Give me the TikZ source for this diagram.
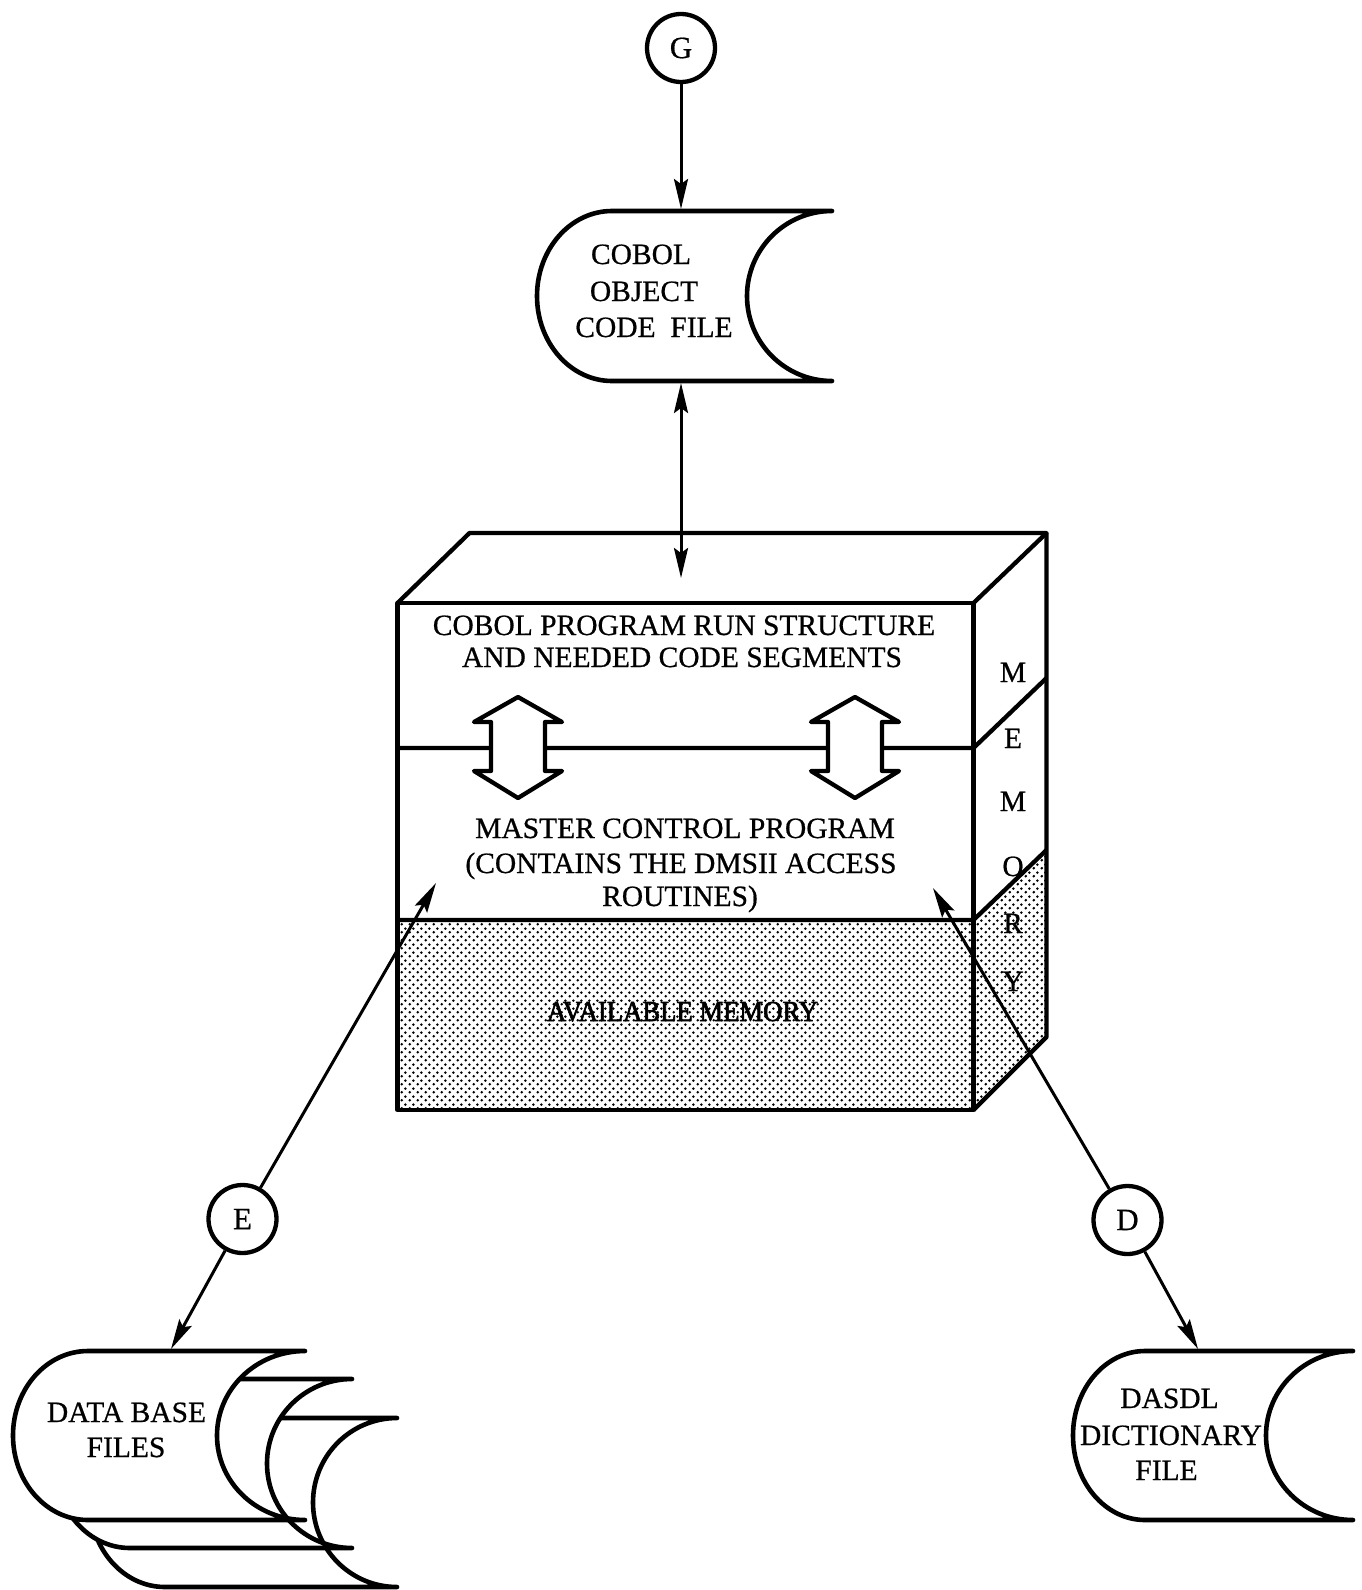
\documentclass[tikz,border=0pt]{standalone}
\usepackage{fontspec}
\setmainfont{Liberation Serif}[FakeBold=0.6]
\newfontfamily\memfont{Liberation Serif}[FakeStretch=0.92,FakeBold=2.2]
\usetikzlibrary{arrows.meta,patterns}

% staggered dot screen for the free memory area
\pgfdeclarepatternformonly{memdots}{\pgfpointorigin}{\pgfpoint{8pt}{8pt}}{\pgfpoint{8pt}{8pt}}{%
  \pgfpathcircle{\pgfpoint{2pt}{2pt}}{1.6pt}%
  \pgfpathcircle{\pgfpoint{6pt}{6pt}}{1.6pt}%
  \pgfusepath{fill}}

\tikzset{
  outline/.style={line width=4.3pt, line join=round},
  filebox/.style={line width=4.6pt, fill=white, line join=round, line cap=round},
  tipshape/.tip={Stealth[length=30pt,width=14pt,inset=5pt]},
  conn/.style={line width=3pt, -tipshape},
  biconn/.style={line width=3pt, tipshape-tipshape},
  tag/.style={circle, draw, line width=4.3pt, minimum size=68pt, inner sep=0pt,
    font=\fontsize{31}{31}\selectfont},
  txt/.style={anchor=base, inner sep=0pt, font=\fontsize{29.5}{35}\selectfont},
  memtxt/.style={anchor=base, inner sep=0pt, font=\memfont\fontsize{29}{35}\selectfont},
  hollow/.style={line width=4.3pt, fill=white, line join=round},
  screen/.style={pattern=memdots},
}

% stored-data symbol: #1 left arc centre x, #2 right end x, #3 top y, #4 bottom y,
% #5 left arc x radius, #6 concave arc x radius (y measured downwards)
\newcommand\storedfile[6]{%
  \draw[filebox] (#1,-#3) -- (#2,-#3)
    arc[start angle=90, end angle=270, x radius=#6, y radius={(#4-#3)/2}]
    -- (#1,-#4)
    arc[start angle=270, end angle=90, x radius=#5, y radius={(#4-#3)/2}]
    -- cycle;}

% hollow two-headed arrow between the memory layers, centred at x = #1
\newcommand\hollowarrow[1]{%
  \draw[hollow] (#1,-697) -- (#1+44,-722) -- (#1+27,-722) -- (#1+27,-771)
    -- (#1+44,-771) -- (#1,-798) -- (#1-44,-771) -- (#1-27,-771)
    -- (#1-27,-722) -- (#1-44,-722) -- cycle;}

\begin{document}
\begin{tikzpicture}[x=1pt,y=1pt]
\useasboundingbox[fill=white] (0,0) rectangle (1362,-1590);

% ---- connector tags
\node[tag] (g) at (681,-48) {G};
\node[tag] (e) at (242.5,-1219) {E};
\node[tag] (d) at (1127.5,-1220) {D};

% ---- COBOL object code file
\storedfile{612}{832}{211}{381}{75}{85}
\node[txt] (cob1) at (641,-264) {COBOL};
\node[txt] (cob2) at (644,-301) {OBJECT};
\node[txt] (cob3) at (654,-337) {CODE\ \ FILE};
\coordinate (cobtop) at (681,-209);
\coordinate (cobbot) at (681,-383);

% ---- memory block
\coordinate (fTL) at (397.5,-603);
\coordinate (fTR) at (973.5,-603);
\coordinate (fBL) at (397.5,-1110);
\coordinate (fBR) at (973.5,-1110);
\coordinate (bTL) at (469.5,-533);
\coordinate (bTR) at (1046.5,-533);
\coordinate (bBR) at (1046.5,-1037);
\coordinate (dL) at (397.5,-748);
\coordinate (dR) at (973.5,-748);
\coordinate (dS) at (1046.5,-678);
\coordinate (mL) at (397.5,-920);
\coordinate (mR) at (973.5,-920);
\coordinate (mS) at (1046.5,-850);
\coordinate (boxin) at (681,-578);

\fill[white] (fTL) -- (bTL) -- (bTR) -- (bBR) -- (fBR) -- (fBL) -- cycle;
\fill[screen] (mL) rectangle (fBR);
\fill[screen] (mR) -- (mS) -- (bBR) -- (fBR) -- cycle;
\draw[outline] (fTL) -- (bTL) -- (bTR) -- (fTR);
\draw[outline] (bTR) -- (bBR) -- (fBR);
\draw[outline] (fTL) rectangle (fBR);
\draw[outline] (dL) -- (dR) -- (dS);
\draw[outline] (mL) -- (mR) -- (mS);

\hollowarrow{518}
\hollowarrow{855}

\node[txt] (run1) at (684,-635) {COBOL PROGRAM RUN STRUCTURE};
\node[txt] (run2) at (682,-667) {AND NEEDED CODE SEGMENTS};
\node[txt] (mcp1) at (685,-838) {MASTER CONTROL PROGRAM};
\node[txt] (mcp2) at (681,-873) {(CONTAINS THE DMSII ACCESS};
\node[txt] (mcp3) at (680,-906) {ROUTINES)};
\node[memtxt] (avail) at (682.5,-1021) {AVAILABLE MEMORY};

\node[txt] (side1) at (1013,-682) {M};
\node[txt] (side2) at (1013,-748) {E};
\node[txt] (side3) at (1013,-811) {M};
\node[txt] (side4) at (1013,-876) {O};
\node[txt] (side5) at (1013,-933) {R};
\node[txt] (side6) at (1013,-991) {Y};

% ---- data base files (three stacked volumes)
\storedfile{165}{397}{1418}{1587}{75}{84}
\storedfile{130}{352}{1379}{1548}{75}{85}
\storedfile{88}{305}{1351}{1520}{75}{88}
\node[txt] (db1) at (126.5,-1422) {DATA BASE};
\node[txt] (db2) at (126,-1457) {FILES};
\coordinate (dbtop) at (171,-1349);

% ---- DASDL dictionary file
\storedfile{1145}{1353}{1351}{1520}{72}{87}
\node[txt] (das1) at (1169.5,-1408) {DASDL};
\node[txt] (das2) at (1171,-1445) {DICTIONARY};
\node[txt] (das3) at (1166.5,-1480) {FILE};
\coordinate (dastop) at (1198,-1349);

% ---- tips inside the master control program area
\coordinate (etip) at (436,-883);
\coordinate (dtip) at (933,-888);

% ---- connectors
\draw[conn] (g) -- (cobtop);
\draw[biconn] (cobbot) -- (boxin);
\draw[conn] (e) -- (etip);
\draw[conn] (e) -- (dbtop);
\draw[conn] (d) -- (dtip);
\draw[conn] (d) -- (dastop);
\end{tikzpicture}
\end{document}
